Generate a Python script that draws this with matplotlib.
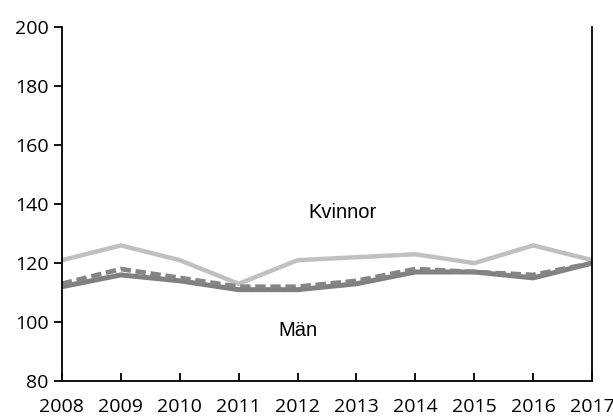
import matplotlib.pyplot as plt

years = [2008, 2009, 2010, 2011, 2012, 2013, 2014, 2015, 2016, 2017]
kvinnor = [121, 126, 121, 113, 121, 122, 123, 120, 126, 121]
man = [112, 116, 114, 111, 111, 113, 117, 117, 115, 120]
totalt = [113, 118, 115, 112, 112, 114, 118, 117, 116, 120]

fig = plt.figure(figsize=(6.13, 4.17), dpi=100)
ax = fig.add_axes([0.101, 0.086, 0.865, 0.849])

ax.plot(years, kvinnor, color='#c0c0c0', lw=3.2, solid_capstyle='butt')
ax.plot(years, man, color='#808080', lw=3.6, solid_capstyle='butt')
ax.plot(years, totalt, color='#858585', lw=3.4, ls=(0, (2.2, 1.0)))

ax.text(2012.77, 137, 'Kvinnor', ha='center', va='center', fontsize=14.5, family='Liberation Sans')
ax.text(2012.0, 97, 'Män', ha='center', va='center', fontsize=14.5, family='Liberation Sans')

ax.set_xlim(2008, 2017)
ax.set_ylim(80, 200)
ax.set_xticks(years)
ax.set_yticks(range(80, 201, 20))
ax.spines['top'].set_visible(False)
for s in ['left', 'bottom', 'right']:
    ax.spines[s].set_linewidth(1.3)
ax.tick_params(axis='x', direction='in', length=6, width=1.3, labelsize=14, pad=12.5)
ax.tick_params(axis='y', direction='out', length=6, width=1.3, labelsize=14)
for lab in ax.get_xticklabels() + ax.get_yticklabels():
    lab.set_family('Open Sans')

fig.savefig('out.png', dpi=100)
